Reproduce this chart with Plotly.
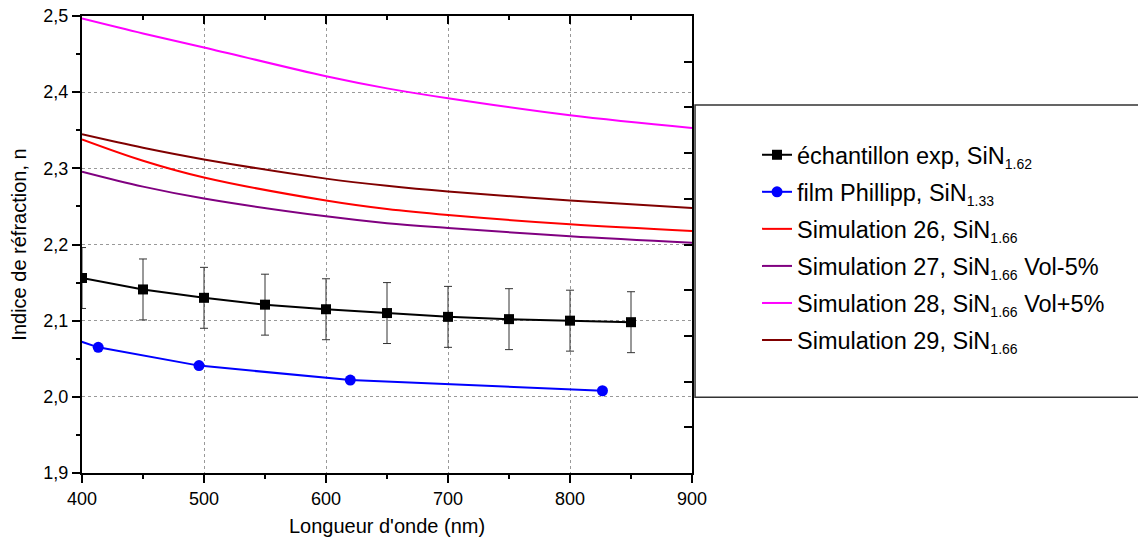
import plotly.graph_objects as go

# Experimental sample
exp_wl = [400, 450, 500, 550, 600, 650, 700, 750, 800, 850]
exp_n = [2.156, 2.141, 2.130, 2.121, 2.115, 2.110, 2.105, 2.102, 2.100, 2.098]
exp_err = [0.04] * 10

# Phillipp film
phil_wl = [354.2, 413.3, 495.9, 619.9, 826.6]
phil_n = [2.097, 2.065, 2.041, 2.022, 2.008]

# Simulations
sim_wl = [400, 450, 500, 600, 650, 700, 800, 900]
sim26 = [2.338, 2.310, 2.288, 2.2577, 2.2465, 2.2386, 2.2265, 2.2177]
sim27 = [2.2956, 2.276, 2.2604, 2.237, 2.228, 2.2217, 2.2108, 2.2022]
sim28 = [2.4966, 2.477, 2.4587, 2.4209, 2.405, 2.392, 2.3696, 2.353]
sim29 = [2.3447, 2.327, 2.3117, 2.2865, 2.277, 2.2695, 2.2577, 2.2478]

SUB = '<sub><span style="font-size:14px">%s</span></sub>'
names = [
    "échantillon exp, SiN" + SUB % "1.62",
    "film Phillipp, SiN" + SUB % "1.33",
    "Simulation 26, SiN" + SUB % "1.66",
    "Simulation 27, SiN" + SUB % "1.66" + " Vol-5%",
    "Simulation 28, SiN" + SUB % "1.66" + " Vol+5%",
    "Simulation 29, SiN" + SUB % "1.66",
]

FONT = "Liberation Sans, Arial"

fig = go.Figure()
fig.add_trace(go.Scatter(
    x=exp_wl, y=exp_n, name=names[0], mode="lines+markers", legendgroup="g0",
    line=dict(color="black", width=2),
    marker=dict(symbol="square", size=10, color="black"),
    error_y=dict(type="data", array=exp_err, visible=True, color="#333333", thickness=1, width=4),
))
fig.add_trace(go.Scatter(
    x=phil_wl, y=phil_n, name=names[1], mode="lines+markers", legendgroup="g1",
    line=dict(color="#0000FF", width=2),
    marker=dict(symbol="circle", size=11, color="#0000FF"),
))
for i, (vals, col, nm) in enumerate([(sim26, "#FF0000", names[2]), (sim27, "#800080", names[3]),
                                     (sim28, "#FF00FF", names[4]), (sim29, "#800000", names[5])]):
    fig.add_trace(go.Scatter(
        x=sim_wl, y=vals, name=nm, mode="lines", legendgroup="g%d" % (i + 2),
        line=dict(color=col, width=2, shape="spline"),
    ))

# helper trace so the top/right mirror axes are drawn
fig.add_trace(go.Scatter(x=[400], y=[0], xaxis="x2", yaxis="y2", mode="markers",
                         marker=dict(opacity=0), showlegend=False, hoverinfo="skip"))

tickfont = dict(family=FONT, size=18, color="black")
titlefont = dict(family=FONT, size=20, color="black")

fig.update_layout(
    xaxis=dict(
        range=[400, 900], dtick=100, tick0=400,
        showline=True, linecolor="black", linewidth=2, mirror=True,
        ticks="outside", ticklen=8, tickwidth=2, tickcolor="black",
        minor=dict(ticks="outside", dtick=50, ticklen=4, tickwidth=2, tickcolor="black", showgrid=False),
        showgrid=True, gridcolor="#999999", griddash="dot", gridwidth=1, zeroline=False,
        tickfont=tickfont, title=dict(text="Longueur d'onde (nm)", font=titlefont, standoff=11),
        automargin=False, ticklabeloverflow="allow",
    ),
    yaxis=dict(
        range=[1.9, 2.5], dtick=0.1, tick0=1.9, tickformat=".1f",
        showline=True, linecolor="black", linewidth=2, mirror=True,
        ticks="outside", ticklen=8, tickwidth=2, tickcolor="black",
        minor=dict(ticks="outside", dtick=0.05, ticklen=4, tickwidth=2, tickcolor="black", showgrid=False),
        showgrid=True, gridcolor="#999999", griddash="dot", gridwidth=1, zeroline=False,
        tickfont=tickfont, title=dict(text="Indice de réfraction, n", font=titlefont, standoff=14),
        automargin=False, ticklabeloverflow="allow",
    ),
    xaxis2=dict(
        overlaying="x", side="top", range=[400, 900], dtick=100, tick0=400,
        showline=True, linecolor="black", linewidth=2,
        ticks="inside", ticklen=8, tickwidth=2, tickcolor="black",
        minor=dict(ticks="inside", dtick=50, ticklen=4, tickwidth=2, tickcolor="black", showgrid=False),
        showticklabels=False, showgrid=False, zeroline=False, automargin=False,
    ),
    yaxis2=dict(
        overlaying="y", side="right", range=[0, 10], dtick=1, tick0=0,
        showline=True, linecolor="black", linewidth=2,
        ticks="inside", ticklen=8, tickwidth=2, tickcolor="black",
        showticklabels=False, showgrid=False, zeroline=False, automargin=False,
    ),
)

fig.add_shape(type="rect", xref="paper", yref="paper",
              x0=1.005, x1=1.75, y0=0.166, y1=0.805,
              line=dict(color="#333333", width=1.5), fillcolor="rgba(0,0,0,0)")

fig.update_layout(
    width=1138, height=539,
    margin=dict(l=74, r=454, t=8, b=74),
    plot_bgcolor="white", paper_bgcolor="white",
    separators=", ",
    font=dict(family=FONT, color="black"),
    legend=dict(
        x=1.1066, y=0.744, xanchor="left", yanchor="top",
        font=dict(family=FONT, size=23.5, color="black"),
        bgcolor="rgba(0,0,0,0)", borderwidth=0, tracegroupgap=3.5,
    ),
    showlegend=True,
)

fig.write_html("out.html")
